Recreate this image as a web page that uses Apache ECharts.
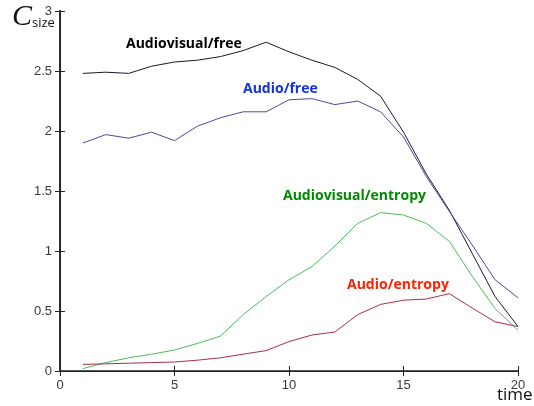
<!DOCTYPE html>
<html><head><meta charset="utf-8">
<script src="https://cdn.jsdelivr.net/npm/echarts@6/dist/echarts.min.js"></script>
<style>html,body{margin:0;padding:0;background:#fff}#c{width:534px;height:406px}</style>
</head><body><div id="c"></div>
<script>
const timeSteps = [1,2,3,4,5,6,7,8,9,10,11,12,13,14,15,16,17,18,19,20];
const audiovisualFree = [2.48,2.49,2.48,2.54,2.575,2.59,2.62,2.67,2.74,2.66,2.59,2.53,2.43,2.29,1.99,1.64,1.34,0.98,0.62,0.37];
const audioFree = [1.90,1.97,1.94,1.99,1.92,2.04,2.11,2.16,2.16,2.26,2.27,2.22,2.25,2.16,1.95,1.62,1.33,1.05,0.76,0.61];
const audiovisualEntropy = [0.02,0.07,0.11,0.14,0.175,0.23,0.29,0.47,0.62,0.76,0.87,1.04,1.23,1.32,1.30,1.23,1.08,0.79,0.52,0.34];
const audioEntropy = [0.055,0.06,0.065,0.07,0.075,0.09,0.11,0.14,0.17,0.245,0.30,0.325,0.47,0.555,0.59,0.60,0.645,0.525,0.41,0.37];
const seriesNames = ['Audiovisual/free','Audio/free','Audiovisual/entropy','Audio/entropy'];
const xTicks = [0,5,10,15,20];
const yTicks = [0,0.5,1,1.5,2,2.5,3];

const pair = a => a.map((v,i)=>[timeSteps[i], v]);
const chart = echarts.init(document.getElementById('c'), null, {renderer:'canvas'});
const tickFont = {color:'#3a3a3a', fontSize:13, fontFamily:'Liberation Sans, Arial, sans-serif'};
const lblFont = '"Open Sans", sans-serif';
const lbl = (text, x, y, color, size) => ({type:'text', style:{text, x, y, fill:color, font:'bold '+size+'px '+lblFont, verticalAlign:'middle', align:'left'}});
chart.setOption({
  animation:false,
  backgroundColor:'#fff',
  grid:{left:60,right:16,top:11,bottom:35},
  xAxis:[
    {type:'value',min:xTicks[0],max:xTicks[xTicks.length-1],interval:5,position:'bottom',
     axisLine:{lineStyle:{color:'#555',width:2}},axisTick:{inside:true,length:5,lineStyle:{color:'#222'}},
     axisLabel:Object.assign({margin:8},tickFont),splitLine:{show:false}},
    {type:'value',min:0,max:20,interval:5,position:'top',
     axisLine:{lineStyle:{color:'#222',width:1}},axisTick:{inside:true,length:5,lineStyle:{color:'#222'}},
     axisLabel:{show:false},splitLine:{show:false}}
  ],
  yAxis:[
    {type:'value',min:yTicks[0],max:yTicks[yTicks.length-1],interval:0.5,position:'left',
     axisLine:{show:true,lineStyle:{color:'#333',width:2}},axisTick:{show:true,inside:true,length:5,lineStyle:{color:'#222'}},
     axisLabel:Object.assign({margin:8},tickFont),splitLine:{show:false}},
    {type:'value',min:0,max:3,interval:0.5,position:'right',
     axisLine:{show:true,lineStyle:{color:'#222',width:1}},axisTick:{show:true,inside:true,length:5,lineStyle:{color:'#222'}},
     axisLabel:{show:false},splitLine:{show:false}}
  ],
  series:[
    {name:seriesNames[0],type:'line',data:pair(audiovisualFree),symbol:'none',lineStyle:{color:'#1a1a2e',width:1}},
    {name:seriesNames[1],type:'line',data:pair(audioFree),symbol:'none',lineStyle:{color:'#4a4a9c',width:1}},
    {name:seriesNames[2],type:'line',data:pair(audiovisualEntropy),symbol:'none',lineStyle:{color:'#4cbb5c',width:1}},
    {name:seriesNames[3],type:'line',data:pair(audioEntropy),symbol:'none',lineStyle:{color:'#a83046',width:1}}
  ],
  graphic:[
    lbl(seriesNames[0],126,44,'#000',14),
    lbl(seriesNames[1],243,89,'#1530e0',14),
    lbl(seriesNames[2],283,196,'#008a00',14),
    lbl(seriesNames[3],347,285,'#ff2200',14),
    {type:'text',left:497,top:387,style:{text:'time',fill:'#111',font:'17px '+lblFont}},
    {type:'text',left:12,top:2,style:{text:'{c|C}{s|size}',rich:{c:{fontFamily:'Liberation Serif',fontStyle:'italic',fontSize:30,fill:'#111'},s:{fontFamily:lblFont,fontSize:13,fill:'#111',padding:[12,0,0,0]}}}}
  ]
});
</script></body></html>
